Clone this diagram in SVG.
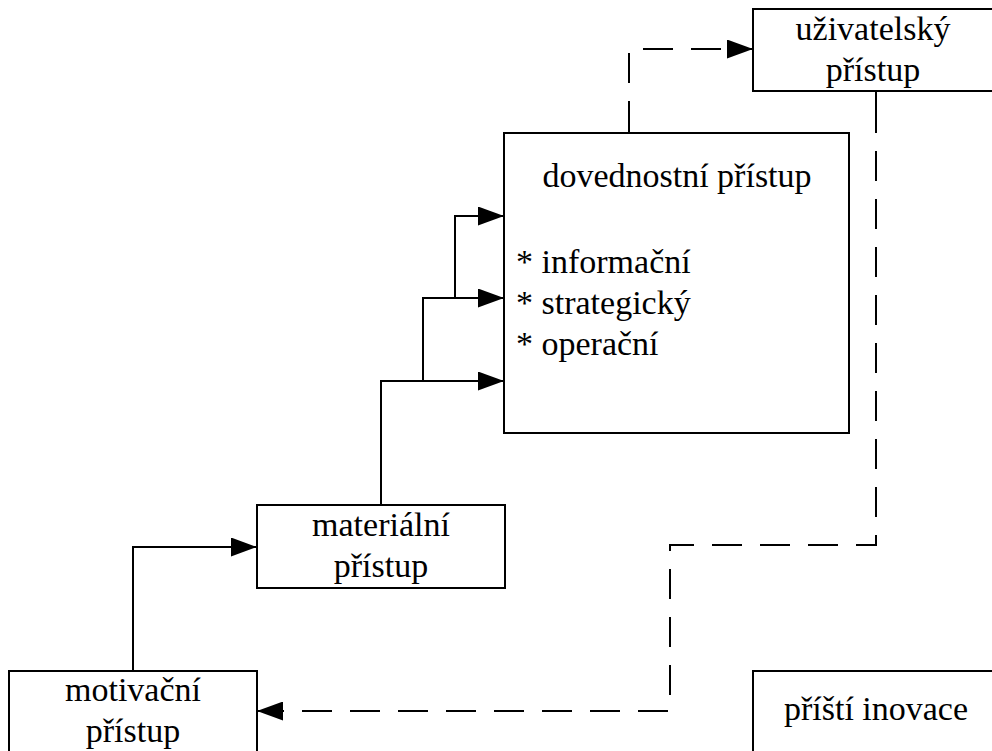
<svg xmlns="http://www.w3.org/2000/svg" width="992" height="751" viewBox="0 0 992 751">
<style>
.box{fill:#fff;stroke:#000;stroke-width:2}
.ln{fill:none;stroke:#000;stroke-width:2}
.dash{stroke-dasharray:30 18}
</style>
<defs>
<marker id="ah" markerUnits="userSpaceOnUse" markerWidth="26" markerHeight="19" refX="26" refY="9.5" orient="auto" viewBox="0 0 26 19">
<path d="M0,0 L26,9.5 L0,19 z" fill="#000"/>
</marker>
</defs>
<rect width="992" height="751" fill="#fff"/>
<g id="connectors">
<path class="ln" d="M133,671 V547 H257" marker-end="url(#ah)"/>
<path class="ln" d="M381,505 V381 H504" marker-end="url(#ah)"/>
<path class="ln" d="M423,381 V298 H504" marker-end="url(#ah)"/>
<path class="ln" d="M455,298 V216 H504" marker-end="url(#ah)"/>
<path class="ln" d="M629,133 V123"/>
<path class="ln dash" d="M629,131 V49 H753" marker-end="url(#ah)"/>
<path class="ln" d="M876,91 V103"/>
<path class="ln dash" d="M876,103 V545 H670 V711 H257" marker-end="url(#ah)"/>
</g>
<g font-family="Liberation Serif, Times New Roman, DejaVu Serif, serif" font-size="34" fill="#000">
<g id="uzivatelsky">
<rect class="box" x="753" y="9" width="250" height="82"/>
<text text-anchor="middle" x="873" y="40">uživatelský</text>
<text text-anchor="middle" x="873" y="81">přístup</text>
</g>
<g id="dovednostni">
<rect class="box" x="504" y="133" width="345" height="300"/>
<text text-anchor="middle" x="677" y="187">dovednostní přístup</text>
<text x="516" y="273">* informační</text>
<text x="516" y="314">* strategický</text>
<text x="516" y="355">* operační</text>
</g>
<g id="materialni">
<rect class="box" x="257" y="505" width="248" height="83"/>
<text text-anchor="middle" x="381" y="536">materiální</text>
<text text-anchor="middle" x="381" y="577">přístup</text>
</g>
<g id="motivacni">
<rect class="box" x="9" y="671" width="248" height="90"/>
<text text-anchor="middle" x="133" y="701">motivační</text>
<text text-anchor="middle" x="133" y="742">přístup</text>
</g>
<g id="pristi">
<rect class="box" x="753" y="671" width="250" height="90"/>
<text text-anchor="middle" x="876" y="720">příští inovace</text>
</g>
</g>
</svg>
